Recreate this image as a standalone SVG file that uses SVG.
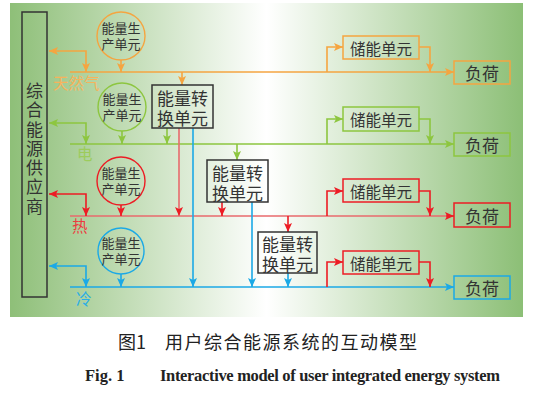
<svg xmlns="http://www.w3.org/2000/svg" width="534" height="404" viewBox="0 0 534 404">
<defs>
<linearGradient id="bg" x1="10" y1="0" x2="523" y2="0" gradientUnits="userSpaceOnUse">
<stop offset="0" stop-color="#8ebf78"/>
<stop offset="0.5" stop-color="#ffffff"/>
<stop offset="1" stop-color="#8cbf76"/>
</linearGradient>
<marker id="aO" markerUnits="userSpaceOnUse" markerWidth="10" markerHeight="8" refX="9" refY="4" orient="auto-start-reverse"><path d="M0,0 L9,4 L0,8 L2,4 z" fill="#f5a540"/></marker>
<marker id="aG" markerUnits="userSpaceOnUse" markerWidth="10" markerHeight="8" refX="9" refY="4" orient="auto-start-reverse"><path d="M0,0 L9,4 L0,8 L2,4 z" fill="#8dc63f"/></marker>
<marker id="aR" markerUnits="userSpaceOnUse" markerWidth="10" markerHeight="8" refX="9" refY="4" orient="auto-start-reverse"><path d="M0,0 L9,4 L0,8 L2,4 z" fill="#ed1c24"/></marker>
<marker id="aB" markerUnits="userSpaceOnUse" markerWidth="10" markerHeight="8" refX="9" refY="4" orient="auto-start-reverse"><path d="M0,0 L9,4 L0,8 L2,4 z" fill="#1ba9e6"/></marker>
</defs>
<style>
text{font-family:"Noto Sans CJK SC","Liberation Sans",sans-serif;fill:#333}
.c{text-anchor:middle;dominant-baseline:central}
.f13{font-size:13px}
.f16{font-size:15.5px}
.f17{font-size:17px}
.box{fill:none;stroke:#333;stroke-width:1.5}
.ln{fill:none;stroke-width:1.6}
.o{stroke:#f5a540}.g{stroke:#8dc63f}.r{stroke:#ed1c24}.rl{stroke:#e86a6c}.b{stroke:#1ba9e6}
.mo{marker-end:url(#aO)}.mg{marker-end:url(#aG)}.mr{marker-end:url(#aR)}.mb{marker-end:url(#aB)}
</style>
<rect x="10" y="3" width="513" height="314" fill="url(#bg)"/>

<g id="supplier">
<rect x="22" y="12" width="25" height="285" class="box"/>
<text x="34.5" y="82" style="writing-mode:vertical-rl;font-size:17px;letter-spacing:2.3px">综合能源供应商</text>
</g>

<g id="connectors">
<!-- gas -->
<path class="ln o mo" d="M70,72 H454"/>
<path class="ln o mo" d="M49,51 H86 V72" marker-start="url(#aO)"/>
<path class="ln o mo" d="M121,60 V72"/>
<path class="ln o mo" d="M182,72 V85"/>
<path class="ln o mo" d="M327,72 V47 H343"/>
<path class="ln o mo" d="M419,47 H430 V72"/>
<!-- electricity -->
<path class="ln g mg" d="M70,144 H454"/>
<path class="ln g mg" d="M49,123 H86 V144" marker-start="url(#aG)"/>
<path class="ln g mg" d="M122,131 V144"/>
<path class="ln g mg" d="M167,128 V144"/>
<path class="ln g mg" d="M237,144 V160"/>
<path class="ln g mg" d="M327,144 V119 H343"/>
<path class="ln g mg" d="M419,119 H430 V144"/>
<!-- heat -->
<path class="ln rl" d="M70,216 H446"/>
<path class="ln r mr" d="M446,216 H454"/>
<path class="ln r mr" d="M49,194 H86 V216" marker-start="url(#aR)"/>
<path class="ln r mr" d="M121,205 V216"/>
<path class="ln rl mr" d="M179,128 V216"/>
<path class="ln r mr" d="M222,202 V216"/>
<path class="ln r mr" d="M288,216 V232"/>
<path class="ln r mr" d="M327,216 V191 H343"/>
<path class="ln r mr" d="M419,191 H430 V216"/>
<!-- cold -->
<path class="ln b mb" d="M70,287 H454"/>
<path class="ln b mb" d="M49,266 H86 V287" marker-start="url(#aB)"/>
<path class="ln b mb" d="M121,274 V287"/>
<path class="ln b mb" d="M193,128 V287"/>
<path class="ln b mb" d="M252,202 V287"/>
<path class="ln b mb" d="M288,273 V287"/>
<path class="ln r mr" d="M327,287 V262 H343"/>
<path class="ln r mr" d="M419,262 H430 V287"/>
</g>

<g id="labels">
<text x="53" y="89" class="f16" style="fill:#f6b35c">天然气</text>
<text x="77" y="160" class="f16" style="fill:#9ccc5c">电</text>
<text x="72" y="232" class="f16" style="fill:#ed3a40">热</text>
<text x="76" y="305" class="f16" style="fill:#29aee6">冷</text>
</g>

<g id="prod-gas">
<circle cx="121" cy="36" r="24" fill="none" stroke="#f5a540" stroke-width="1.4"/>
<text class="c f13"><tspan x="121" y="27">能量生</tspan><tspan x="121" y="43">产单元</tspan></text>
</g>
<g id="prod-elec">
<circle cx="122" cy="107" r="24" fill="none" stroke="#8dc63f" stroke-width="1.4"/>
<text class="c f13"><tspan x="122" y="98">能量生</tspan><tspan x="122" y="114">产单元</tspan></text>
</g>
<g id="prod-heat">
<circle cx="121" cy="181" r="24" fill="none" stroke="#ed1c24" stroke-width="1.4"/>
<text class="c f13"><tspan x="121" y="172">能量生</tspan><tspan x="121" y="188">产单元</tspan></text>
</g>
<g id="prod-cold">
<circle cx="121" cy="251" r="23" fill="none" stroke="#1ba9e6" stroke-width="1.4"/>
<text class="c f13"><tspan x="121" y="242">能量生</tspan><tspan x="121" y="258">产单元</tspan></text>
</g>

<g id="conv1">
<rect x="152" y="85" width="61" height="43" class="box"/>
<text class="c f17"><tspan x="182.5" y="97">能量转</tspan><tspan x="182.5" y="117">换单元</tspan></text>
</g>
<g id="conv2">
<rect x="207" y="160" width="61" height="42" class="box"/>
<text class="c f17"><tspan x="237.5" y="171.5">能量转</tspan><tspan x="237.5" y="191.5">换单元</tspan></text>
</g>
<g id="conv3">
<rect x="258" y="232" width="59" height="41" class="box"/>
<text class="c f17"><tspan x="287.5" y="243">能量转</tspan><tspan x="287.5" y="263">换单元</tspan></text>
</g>

<g id="store-gas">
<rect x="343" y="36" width="76" height="23" fill="none" stroke="#f5a540" stroke-width="1.5"/>
<text class="c f16" x="381" y="47.5">储能单元</text>
</g>
<g id="store-elec">
<rect x="343" y="107" width="76" height="24" fill="none" stroke="#8dc63f" stroke-width="1.5"/>
<text class="c f16" x="381" y="119">储能单元</text>
</g>
<g id="store-heat">
<rect x="343" y="179" width="76" height="23" fill="none" stroke="#ed1c24" stroke-width="1.5"/>
<text class="c f16" x="381" y="190.5">储能单元</text>
</g>
<g id="store-cold">
<rect x="343" y="251" width="76" height="23" fill="none" stroke="#ed1c24" stroke-width="1.5"/>
<text class="c f16" x="381" y="262.5">储能单元</text>
</g>

<g id="load-gas">
<rect x="454" y="61" width="56" height="23" fill="none" stroke="#f5a540" stroke-width="1.5"/>
<text class="c f17" x="482" y="72.5">负荷</text>
</g>
<g id="load-elec">
<rect x="454" y="133" width="56" height="23" fill="none" stroke="#8dc63f" stroke-width="1.5"/>
<text class="c f17" x="482" y="144.5">负荷</text>
</g>
<g id="load-heat">
<rect x="454" y="203" width="56" height="24" fill="none" stroke="#ed1c24" stroke-width="1.5"/>
<text class="c f17" x="482" y="215">负荷</text>
</g>
<g id="load-cold">
<rect x="454" y="276" width="56" height="23" fill="none" stroke="#1ba9e6" stroke-width="1.5"/>
<text class="c f17" x="482" y="287.5">负荷</text>
</g>

<g id="caption">
<text x="118" y="349" style="font-size:18px;fill:#222">图1</text>
<text x="165" y="349" textLength="252" style="font-size:18px;fill:#222">用户综合能源系统的互动模型</text>
<text x="85" y="381" style="font-family:'Liberation Serif',serif;font-weight:bold;font-size:16.5px;fill:#222">Fig. 1</text>
<text x="160" y="381" textLength="340" style="font-family:'Liberation Serif',serif;font-weight:bold;font-size:16.5px;fill:#222">Interactive model of user integrated energy system</text>
</g>
</svg>
